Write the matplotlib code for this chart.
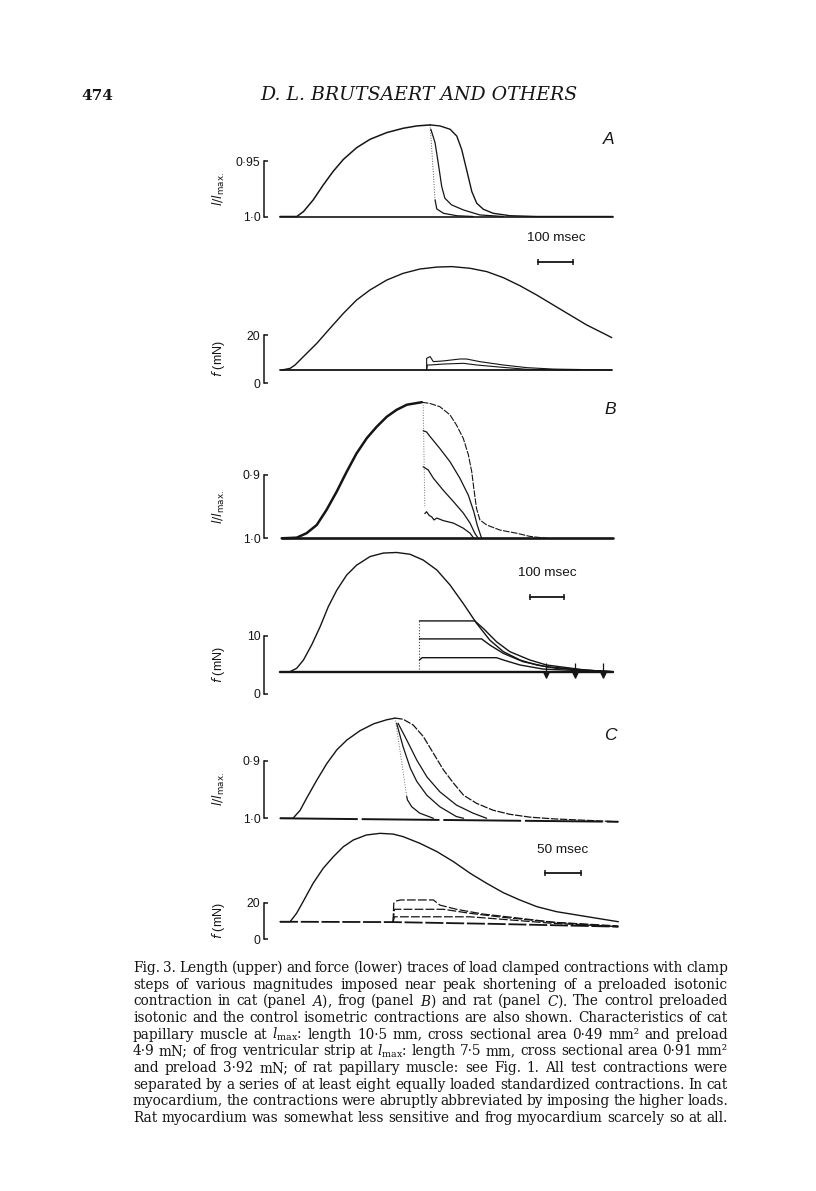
import matplotlib.pyplot as plt
from matplotlib import transforms

plt.rcParams['font.family'] = ['Liberation Sans', 'DejaVu Sans']
plt.rcParams['mathtext.fontset'] = 'dejavusans'

W, H = 816, 1191
INK = '#151515'

# ---- data: time in msec, length as l/lmax, force in mN ----
# panel A (cat)
a_len_rise = [(0, 1.0), (48, 1.0), (67, 0.9956), (95, 0.985), (124, 0.9714), (152, 0.9593),
              (181, 0.9486), (219, 0.938), (257, 0.9305), (305, 0.9244), (352, 0.9205),
              (391, 0.9184), (429, 0.9175)]
a_len_ctrl = [(429, 0.9175), (457, 0.9184), (486, 0.9214), (505, 0.9275), (519, 0.9395),
              (533, 0.9577), (548, 0.9775), (562, 0.988), (581, 0.9935), (609, 0.9971),
              (657, 0.9993), (733, 1.0), (951, 1.0)]
a_len_fast = [(429, 0.9175), (443, 0.985)]
a_len_t1 = [(443, 0.985), (448, 0.9932), (467, 0.9971), (505, 0.9993), (552, 1.0)]
a_len_t2 = [(431, 0.9214), (443, 0.9335), (452, 0.9516), (462, 0.9729), (471, 0.9835),
            (490, 0.9895), (524, 0.9941), (571, 0.9986), (638, 1.0)]
a_len_iso = [(0, 1.0), (951, 1.0)]

a_f_iso = [(5, 5.4), (29, 6.1), (43, 7.5), (67, 11.0), (105, 16.5), (143, 22.8), (181, 29.0),
           (219, 34.6), (257, 38.75), (305, 42.9), (352, 45.7), (400, 47.5), (448, 48.3),
           (491, 48.5), (543, 47.8), (591, 46.4), (638, 43.9), (686, 40.5), (733, 36.7),
           (781, 32.5), (829, 28.3), (876, 24.2), (924, 20.7), (948, 18.9)]
a_f_ctrl = [(0, 5.4), (948, 5.4)]
a_f_t1 = [(419, 5.4), (419, 10.3), (429, 11.0), (438, 8.9), (467, 9.2), (514, 10.0), (533, 10.0),
          (571, 8.9), (638, 7.5), (705, 6.4), (781, 5.8), (948, 5.4)]
a_f_t2 = [(419, 5.4), (421, 7.5), (429, 7.5), (467, 7.9), (524, 8.2), (562, 7.5), (638, 6.5),
          (705, 5.7), (857, 5.4)]

# panel B (frog)
b_len_rise = [(5, 1.0), (49, 0.999), (78, 0.992), (108, 0.979), (137, 0.955), (167, 0.926),
              (196, 0.895), (225, 0.866), (255, 0.842), (284, 0.824), (314, 0.808), (343, 0.797),
              (373, 0.789), (417, 0.785)]
b_len_ctrl = [(417, 0.785), (441, 0.787), (470, 0.792), (500, 0.805), (519, 0.821), (539, 0.842),
              (554, 0.868), (564, 0.895), (570, 0.921), (578, 0.953), (588, 0.971), (608, 0.979),
              (647, 0.987), (696, 0.992), (735, 0.997), (784, 1.0)]
b_len_fast = [(421, 0.785), (426, 0.952)]
b_len_t1 = [(421, 0.830), (431, 0.832), (441, 0.839), (470, 0.858), (500, 0.879), (529, 0.905),
            (554, 0.932), (570, 0.958), (580, 0.979), (593, 1.0)]
b_len_t2 = [(421, 0.887), (436, 0.892), (451, 0.905), (480, 0.924), (510, 0.942), (539, 0.960),
            (559, 0.976), (573, 0.992), (583, 1.0)]
b_len_t3 = [(426, 0.961), (431, 0.958), (439, 0.964), (446, 0.966), (453, 0.971), (461, 0.968),
            (480, 0.972), (510, 0.976), (539, 0.984), (559, 0.992), (570, 1.0)]
b_len_iso = [(5, 1.0), (980, 1.0)]

b_f_iso = [(0, 3.74), (29, 3.84), (49, 4.43), (69, 5.86), (93, 8.45), (118, 11.6), (142, 15.05),
           (167, 17.9), (196, 20.5), (225, 22.2), (265, 23.7), (304, 24.3), (343, 24.4),
           (382, 24.1), (421, 23.1), (461, 21.4), (500, 18.8), (539, 15.6), (578, 12.2),
           (617, 9.3), (657, 7.3), (706, 5.86), (755, 5.0), (813, 4.43), (902, 4.09),
           (980, 3.84)]
b_f_ctrl = [(0, 3.74), (980, 3.74)]
b_f_step = [(410, 3.74), (410, 12.6)]
b_f_t1 = [(410, 12.6), (573, 12.6), (598, 11.3), (637, 9.0), (676, 7.3), (735, 5.86), (784, 5.0),
          (902, 4.1), (980, 3.84)]
b_f_t2 = [(410, 9.5), (593, 9.5), (617, 8.45), (657, 7.0), (715, 5.57), (784, 4.7), (902, 4.1),
          (980, 3.84)]
b_f_t3 = [(410, 5.86), (418, 6.26), (637, 6.26), (657, 5.86), (706, 5.0), (774, 4.3), (902, 3.97),
          (980, 3.8)]
b_f_artifacts = [782, 867, 950]

# panel C (rat)
c_len_rise = [(0, 1.0), (18, 1.0), (28, 0.986), (37, 0.965), (51, 0.934), (65, 0.905), (79, 0.881),
              (93, 0.864), (111, 0.848), (130, 0.836), (148, 0.829), (160, 0.826)]
c_len_ctrl = [(160, 0.826), (171, 0.828), (185, 0.838), (199, 0.858), (213, 0.887), (227, 0.916),
              (241, 0.939), (255, 0.960), (273, 0.974), (296, 0.986), (319, 0.993), (347, 0.998),
              (380, 1.001), (470, 1.006)]
c_len_fast = [(160, 0.826), (176, 0.962)]
c_len_t1 = [(176, 0.962), (177, 0.968), (183, 0.980), (194, 0.991), (213, 1.0)]
c_len_t2 = [(162, 0.835), (171, 0.876), (181, 0.913), (190, 0.936), (204, 0.960), (222, 0.980),
            (245, 0.997), (255, 1.0)]
c_len_t3 = [(164, 0.835), (176, 0.864), (190, 0.899), (204, 0.928), (222, 0.954), (245, 0.977),
            (268, 0.991), (287, 1.0)]
c_len_iso = [(0, 1.0), (470, 1.006)]

c_f_iso = [(0, 9.6), (14, 9.6), (23, 14.2), (32, 20.5), (46, 30.6), (60, 38.8), (74, 45.1),
           (88, 50.6), (102, 54.3), (120, 57.0), (139, 57.9), (157, 57.5), (171, 56.1),
           (194, 52.5), (218, 47.9), (241, 42.4), (264, 36.1), (287, 30.6), (310, 25.5),
           (333, 21.5), (357, 17.8), (384, 15.1), (412, 13.3), (440, 11.5), (470, 9.6)]
c_f_ctrl = [(0, 9.6), (157, 9.4), (300, 8.4), (470, 6.9)]
c_f_t1 = [(157, 9.4), (158, 19.7), (162, 21.0), (168, 21.5), (213, 21.5), (222, 18.7),
          (245, 16.4), (282, 13.8), (333, 11.5), (380, 9.3), (470, 7.3)]
c_f_t2 = [(157, 9.4), (159, 16.4), (227, 16.4), (264, 14.2), (310, 12.0), (380, 9.3), (470, 6.9)]
c_f_t3 = [(157, 9.4), (159, 12.3), (264, 12.3), (310, 10.9), (380, 8.7), (470, 6.9)]

# time calibration bars (start, height, length in msec)
a_bar = (738, 50.5, 100)
b_bar = (735, 16.8, 100)
c_bar = (368, 36.1, 50)

caption = [
    "Fig. 3. Length (upper) and force (lower) traces of load clamped contractions with clamp",
    "steps of various magnitudes imposed near peak shortening of a preloaded isotonic",
    "contraction in cat (panel $A$), frog (panel $B$) and rat (panel $C$). The control preloaded",
    "isotonic and the control isometric contractions are also shown. Characteristics of cat",
    "papillary muscle at $l_{\\mathrm{max}}$: length 10\u00b75 mm, cross sectional area 0\u00b749 mm\u00b2 and preload",
    "4\u00b79 mN; of frog ventricular strip at $l_{\\mathrm{max}}$: length 7\u00b75 mm, cross sectional area 0\u00b791 mm\u00b2",
    "and preload 3\u00b792 mN; of rat papillary muscle: see Fig. 1. All test contractions were",
    "separated by a series of at least eight equally loaded standardized contractions. In cat",
    "myocardium, the contractions were abruptly abbreviated by imposing the higher loads.",
    "Rat myocardium was somewhat less sensitive and frog myocardium scarcely so at all.",
]

# ---- layout (pixels on the page) ----
X0, X1 = 280, 625
BRACKET_X = 264
LABEL_X = (227 - X0) / (X1 - X0)
LEN_LABEL = r'$\it{l/l}_{\rm max.}$'
F_LABEL = r'$\it{f}$ (mN)'

fig = plt.figure(figsize=(W / 100, H / 100), dpi=100)


def make_panel(top, bottom, anchor0, anchor1, bracket, ticklabels, ms_per_px, ylabel):
    ax = fig.add_axes([X0 / W, 1 - bottom / H, (X1 - X0) / W, (bottom - top) / H])
    ax.patch.set_alpha(0)
    (p0, v0), (p1, v1) = anchor0, anchor1
    k = (v1 - v0) / (p1 - p0)
    ax.set_ylim(v0 + k * (bottom - p0), v0 + k * (top - p0))
    ax.set_xlim(0, (X1 - X0) * ms_per_px)
    for s in ('top', 'right', 'bottom'):
        ax.spines[s].set_visible(False)
    sp = ax.spines['left']
    sp.set_position(('outward', (X0 - BRACKET_X) * 0.72))
    sp.set_bounds(*bracket)
    sp.set_linewidth(1.1)
    sp.set_color(INK)
    ax.set_xticks([])
    ax.set_yticks(bracket)
    ax.set_yticklabels(ticklabels)
    ax.tick_params(axis='y', direction='in', length=3.2, width=1.1, pad=2.5,
                   labelsize=8.7, colors=INK)
    ax.set_ylabel(ylabel, fontsize=9, color=INK)
    tr = transforms.blended_transform_factory(ax.transAxes, ax.transData)
    ax.yaxis.set_label_coords(LABEL_X, sum(bracket) / 2, transform=tr)
    return ax


def trace(ax, pts, lw=0.9, ls='-', alpha=1.0):
    t, v = zip(*pts)
    ax.plot(t, v, color=INK, lw=lw, ls=ls, alpha=alpha, clip_on=False,
            solid_joinstyle='round', solid_capstyle='round')


def scale_bar(ax, bar, text):
    t0, y, length = bar
    ax.plot([t0, t0 + length], [y, y], color=INK, lw=1.3, marker='|', ms=5, mew=1.1,
            clip_on=False)
    ax.annotate(text, (t0 + length / 2, y), xytext=(0, 17), textcoords='offset points',
                ha='center', va='center', fontsize=9.7, color=INK)


ms_ab = 100 / 35
ms_c = 50 / 36

# panel A
ax = make_panel(112, 222, (216.5, 1.0), (161, 0.95), (0.95, 1.0), ['0\u00b795', '1\u00b70'],
                ms_ab, LEN_LABEL)
trace(ax, a_len_iso, 1.2)
trace(ax, a_len_rise, 1.1)
trace(ax, a_len_ctrl, 1.0)
trace(ax, a_len_fast, 0.7, ':', 0.7)
trace(ax, a_len_t1, 0.9)
trace(ax, a_len_t2, 0.9)

ax = make_panel(250, 390, (383, 0), (335, 20), (0, 20), ['0', '20'], ms_ab, F_LABEL)
trace(ax, a_f_ctrl, 1.3)
trace(ax, a_f_iso, 1.0)
trace(ax, a_f_t1, 0.8)
trace(ax, a_f_t2, 0.8)
scale_bar(ax, a_bar, '100 msec')

# panel B
ax = make_panel(395, 545, (538.3, 1.0), (475, 0.9), (0.9, 1.0), ['0\u00b79', '1\u00b70'],
                100 / 34, LEN_LABEL)
trace(ax, b_len_iso, 1.9)
trace(ax, b_len_rise, 1.8)
trace(ax, b_len_ctrl, 0.8, (0, (6, 1.2)))
trace(ax, b_len_fast, 0.7, ':', 0.6)
trace(ax, b_len_t1, 0.9)
trace(ax, b_len_t2, 0.9)
trace(ax, b_len_t3, 0.9)

ax = make_panel(548, 700, (694, 0), (636, 10), (0, 10), ['0', '10'], 100 / 34, F_LABEL)
trace(ax, b_f_ctrl, 1.7)
trace(ax, b_f_iso, 1.0)
trace(ax, b_f_step, 0.8, ':', 0.8)
trace(ax, b_f_t1, 1.0)
trace(ax, b_f_t2, 1.0)
trace(ax, b_f_t3, 1.0)
ax.vlines(b_f_artifacts, 2.8, 5.3, color=INK, lw=0.9)
ax.plot(b_f_artifacts, [3.3] * len(b_f_artifacts), ls='none', marker='v', ms=3.5, color=INK)
scale_bar(ax, b_bar, '100 msec')

# panel C
ax = make_panel(712, 825, (818.3, 1.0), (760.7, 0.9), (0.9, 1.0), ['0\u00b79', '1\u00b70'],
                ms_c, LEN_LABEL)
trace(ax, c_len_iso, 1.4, (0, (40, 2)))
trace(ax, c_len_rise, 1.0)
trace(ax, c_len_ctrl, 0.9, (0, (6, 1.2)))
trace(ax, c_len_fast, 0.7, ':', 0.6)
trace(ax, c_len_t1, 0.9)
trace(ax, c_len_t2, 0.9)
trace(ax, c_len_t3, 0.9)

ax = make_panel(828, 945, (939.3, 0), (902.7, 20), (0, 20), ['0', '20'], ms_c, F_LABEL)
trace(ax, c_f_ctrl, 1.3, (0, (10, 1.5)))
trace(ax, c_f_iso, 1.0)
trace(ax, c_f_t1, 0.9, (0, (7, 1.8)))
trace(ax, c_f_t2, 0.9, (0, (7, 1.8)))
trace(ax, c_f_t3, 0.9, (0, (7, 1.8)))
scale_bar(ax, c_bar, '50 msec')

# panel letters
for letter, (px, py) in zip('ABC', [(609, 140), (610, 410), (610, 735)]):
    fig.text(px / W, 1 - py / H, letter, style='italic', fontsize=12.5, ha='center',
             va='center', color=INK)

# running head
fig.canvas.draw()
r = fig.canvas.get_renderer()
fig.text(81 / W, 1 - 100 / H, '474', family='DejaVu Serif', weight='bold', fontsize=11,
         va='baseline', color=INK)
head = fig.text(260 / W, 1 - 100 / H, 'D. L. BRUTSAERT AND OTHERS', family='DejaVu Serif',
                style='italic', fontsize=12, va='baseline', color=INK)
hw = head.get_window_extent(r).width
head.set_fontsize(12 * 316 / hw)

# caption, justified between two margins
CAP_L, CAP_R = 133, 728
CAP_Y0, CAP_DY = 972, 16.67


def caption_words(fs):
    rows = []
    for i, line in enumerate(caption):
        arts = [fig.text(0, 1 - (CAP_Y0 + i * CAP_DY) / H, w, family='DejaVu Serif',
                         math_fontfamily='dejavuserif', fontsize=fs, va='baseline', color=INK)
                for w in line.split(' ')]
        rows.append(arts)
    return rows


def natural_width(rows):
    return max(sum(a.get_window_extent(r).width for a in row) + 3.4 * (len(row) - 1)
               for row in rows)


fs = 9.4
rows = caption_words(fs)
for _ in range(2):
    need = natural_width(rows)
    for row in rows:
        for a in row:
            a.remove()
    fs *= (CAP_R - CAP_L) / need
    rows = caption_words(fs)
for row in rows:
    widths = [a.get_window_extent(r).width for a in row]
    gap = (CAP_R - CAP_L - sum(widths)) / (len(row) - 1)
    x = CAP_L
    for a, w in zip(row, widths):
        a.set_x(x / W)
        x += w + gap

fig.savefig('out.png', dpi=100, facecolor='white')
